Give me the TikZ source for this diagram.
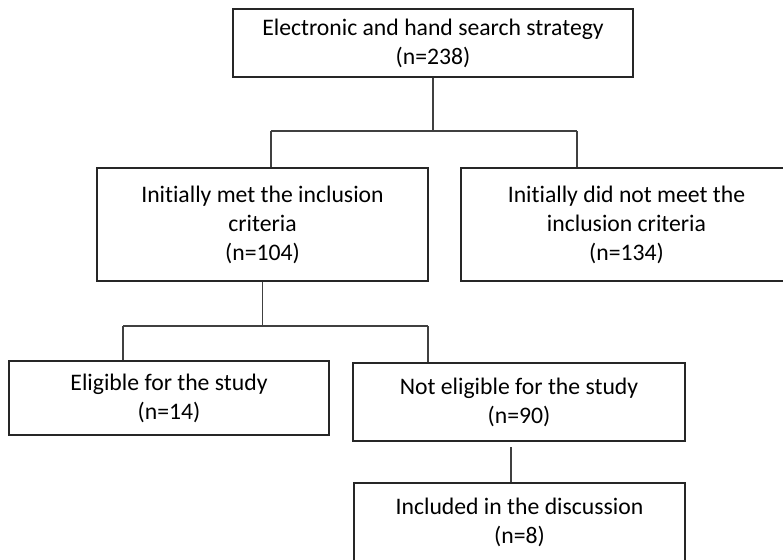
\documentclass[tikz,border=0pt]{standalone}
\usepackage{fontspec}
\setmainfont{Carlito}[Ligatures={NoCommon}]
\begin{document}
\begin{tikzpicture}[x=1pt,y=-1pt,
  box/.style={draw=black!85, line width=1.1pt, rectangle, align=center,
    inner sep=0pt, font=\fontsize{23.7}{29}\selectfont},
  link/.style={draw=black!75, line width=1.1pt}]
\useasboundingbox (0,0) rectangle (783,559);
% boxes
\node[box, minimum width=400pt, minimum height=68pt] (search) at (433,43)
  {Electronic and hand search strategy\\(n=238)};
\node[box, minimum width=331pt, minimum height=113pt] (met) at (262.5,224.5)
  {Initially met the inclusion\\criteria\\(n=104)};
\node[box, minimum width=331pt, minimum height=113pt] (notmet) at (626.5,224.5)
  {Initially did not meet the\\inclusion criteria\\(n=134)};
\node[box, minimum width=320pt, minimum height=74pt] (elig) at (169,398)
  {Eligible for the study\\(n=14)};
\node[box, minimum width=332pt, minimum height=78pt] (notelig) at (519,402)
  {Not eligible for the study\\(n=90)};
\node[box, minimum width=331pt, minimum height=79pt] (incl) at (519.5,522.5)
  {Included in the discussion\\(n=8)};
% junction points
\coordinate (ja) at (433,131);
\coordinate (jal) at (271,131);
\coordinate (jar) at (577,131);
\coordinate (jb) at (262.5,326);
\coordinate (jbl) at (123,326);
\coordinate (jbr) at (428,326);
\coordinate (jc) at (511,447);
% connectors
\draw[link] (search.south) -- (ja);
\draw[link] (jal) -- (jar);
\draw[link] (jal) -- (met.north -| jal);
\draw[link] (jar) -- (notmet.north -| jar);
\draw[link] (met.south) -- (jb);
\draw[link] (jbl) -- (jbr);
\draw[link] (jbl) -- (elig.north -| jbl);
\draw[link] (jbr) -- (notelig.north -| jbr);
\draw[link] (jc) -- (incl.north -| jc);
\end{tikzpicture}
\end{document}
